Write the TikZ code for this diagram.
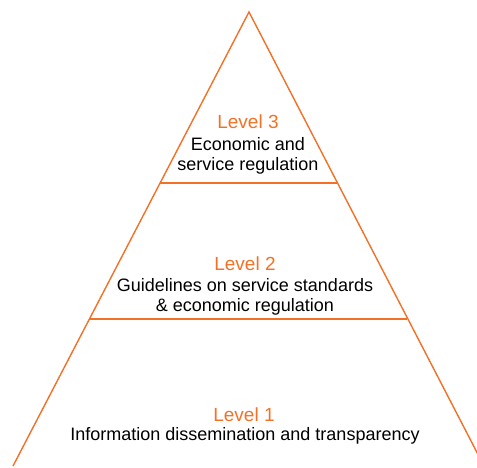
\documentclass[tikz,border=0pt]{standalone}
\usepackage{fontspec}
\setmainfont{Liberation Sans}
\definecolor{pyrorange}{RGB}{242,113,38}
\tikzset{
  level/.style={text=pyrorange,font=\fontsize{19}{22}\selectfont,inner sep=0pt,anchor=base},
  desc/.style={font=\fontsize{18}{20}\selectfont,inner sep=0pt,anchor=base},
  side/.style={draw=pyrorange,line width=1.4pt}
}

\begin{document}
\begin{tikzpicture}[x=1pt,y=-1pt]
		\useasboundingbox (0,0) rectangle (477,467);
		\clip (0,0) rectangle (477,467);
		\coordinate (A) at (249,12);
		\coordinate (L) at (13,466);
		\coordinate (R) at (484,466);
		\coordinate (L3) at (160,183);
		\coordinate (R3) at (336.5,183);
		\coordinate (L2) at (89.5,319);
		\coordinate (R2) at (406.5,319);
		\draw[side] (L) -- (A) -- (R);
		\draw[side] (L3) -- (R3);
		\draw[side] (L2) -- (R2);
		% level 3
		\node[level] (lv3) at (248,128.3) {Level 3};
		\node[desc] (d3a) at (248,150.7) {Economic and};
		\node[desc] (d3b) at (248,170.7) {service regulation};
		% level 2
		\node[level] (lv2) at (245,270) {Level 2};
		\node[desc] (d2a) at (245,291.7) {Guidelines on service standards};
		\node[desc] (d2b) at (245,311.7) {\& economic regulation};
		% level 1
		\node[level] (lv1) at (244,421.7) {Level 1};
		\node[desc] (d1) at (245,440.7) {Information dissemination and transparency};
\end{tikzpicture}
\end{document}
